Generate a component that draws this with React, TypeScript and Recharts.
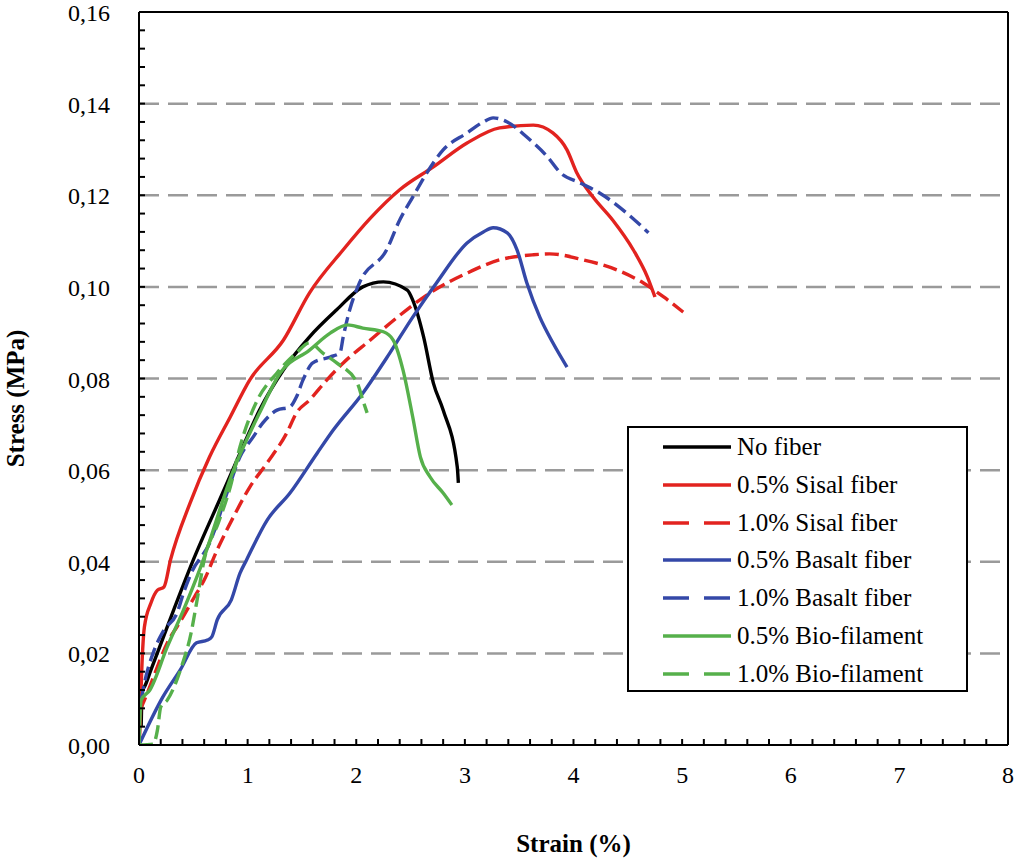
import React from "react";
import { LineChart, Line, XAxis, YAxis, ReferenceLine } from "recharts";

// [strain %, stress MPa] pairs
type Pt = [number, number];

const noFiber: Pt[] = [
  [0.02, 0.004], [0.03, 0.012], [0.05, 0.0127], [0.11, 0.0164], [0.26, 0.0258],
  [0.5, 0.0404], [0.77, 0.055], [0.93, 0.0637], [1.11, 0.0731], [1.33, 0.0819],
  [1.57, 0.0891], [1.82, 0.095], [2.06, 0.1], [2.25, 0.1011], [2.47, 0.0993],
  [2.52, 0.0971], [2.62, 0.0891], [2.71, 0.079], [2.8, 0.0731], [2.93, 0.0607],
  [2.94, 0.0572],
];

const sisal05: Pt[] = [
  [0, 0], [0.01, 0.0044], [0.02, 0.0127], [0.05, 0.0258], [0.11, 0.031],
  [0.17, 0.0338], [0.23, 0.0345], [0.29, 0.0404], [0.47, 0.0528], [0.65, 0.0629],
  [0.84, 0.0716], [1.02, 0.0797], [1.33, 0.0884], [1.57, 0.0987], [1.88, 0.1081],
  [2.13, 0.115], [2.4, 0.1212], [2.71, 0.1262], [3.02, 0.1314], [3.32, 0.1347],
  [3.63, 0.1353], [3.81, 0.1336], [3.94, 0.1299], [4.03, 0.1249], [4.18, 0.1196],
  [4.36, 0.1146], [4.55, 0.1081], [4.68, 0.1022], [4.75, 0.0978],
];

const sisal10: Pt[] = [
  [0.01, 0.0076], [0.05, 0.0098], [0.29, 0.0236], [0.35, 0.0258], [0.51, 0.0323],
  [0.6, 0.036], [0.72, 0.0426], [0.87, 0.0498], [1.02, 0.0563], [1.18, 0.0616],
  [1.36, 0.0681], [1.45, 0.0725], [1.57, 0.0753], [1.73, 0.0797], [1.88, 0.0834],
  [2.13, 0.0884], [2.38, 0.0934], [2.68, 0.0987], [3.02, 0.103], [3.32, 0.1059],
  [3.63, 0.107], [3.78, 0.1072], [4.09, 0.1059], [4.4, 0.1037], [4.64, 0.1009],
  [4.83, 0.0978], [5.01, 0.0945],
];

const basalt05: Pt[] = [
  [0, 0], [0.22, 0.0105], [0.38, 0.0164], [0.53, 0.0223], [0.63, 0.0229],
  [0.67, 0.0236], [0.72, 0.0273], [0.85, 0.0317], [0.93, 0.0375], [0.99, 0.0404],
  [1.18, 0.0491], [1.39, 0.055], [1.64, 0.0637], [1.79, 0.0688], [2.06, 0.0768],
  [2.31, 0.0856], [2.52, 0.0934], [2.74, 0.1009], [3.02, 0.1096], [3.17, 0.112],
  [3.26, 0.1129], [3.39, 0.1118], [3.48, 0.1081], [3.57, 0.1009], [3.69, 0.0934],
  [3.81, 0.0878], [3.94, 0.0825],
];

const basalt10: Pt[] = [
  [0.02, 0.0098], [0.05, 0.0135], [0.14, 0.0207], [0.23, 0.0251], [0.35, 0.0288],
  [0.41, 0.0332], [0.48, 0.0375], [0.65, 0.0441], [0.81, 0.055], [0.93, 0.0629],
  [1.05, 0.0672], [1.14, 0.0703], [1.27, 0.0731], [1.39, 0.0738], [1.45, 0.076],
  [1.51, 0.0797], [1.6, 0.0834], [1.76, 0.0847], [1.85, 0.0856], [1.88, 0.0891],
  [1.94, 0.095], [2.03, 0.1009], [2.28, 0.1081], [2.4, 0.1146], [2.52, 0.1196],
  [2.65, 0.1249], [2.8, 0.1299], [3.02, 0.1336], [3.17, 0.136], [3.26, 0.1369],
  [3.39, 0.136], [3.57, 0.1327], [3.76, 0.1284], [3.88, 0.1249], [4.06, 0.1227],
  [4.24, 0.1205], [4.49, 0.1161], [4.69, 0.1118],
];

const bio05: Pt[] = [
  [0, 0], [0.02, 0.0098], [0.1, 0.012], [0.26, 0.0214], [0.41, 0.0295],
  [0.57, 0.039], [0.87, 0.06], [1.11, 0.0725], [1.3, 0.0812], [1.57, 0.0862],
  [1.76, 0.0899], [1.92, 0.0917], [2.06, 0.091], [2.25, 0.0902], [2.34, 0.0884],
  [2.43, 0.0819], [2.52, 0.0716], [2.59, 0.0629], [2.68, 0.0585], [2.8, 0.055],
  [2.88, 0.0524],
];

const bio10: Pt[] = [
  [0, 0], [0.13, 0.0002], [0.17, 0.0033], [0.2, 0.0083], [0.26, 0.0098],
  [0.39, 0.017], [0.48, 0.0245], [0.53, 0.031], [0.6, 0.0404], [0.73, 0.0485],
  [0.84, 0.0563], [0.93, 0.0651], [1.09, 0.0753], [1.27, 0.0812], [1.45, 0.0856],
  [1.57, 0.0878], [1.69, 0.0856], [1.82, 0.0834], [2.01, 0.079], [2.06, 0.0753],
  [2.1, 0.0725],
];

const xTicks = [
  0, 0.2, 0.4, 0.6, 0.8, 1, 1.2, 1.4, 1.6, 1.8, 2, 2.2, 2.4, 2.6, 2.8, 3, 3.2, 3.4,
  3.6, 3.8, 4, 4.2, 4.4, 4.6, 4.8, 5, 5.2, 5.4, 5.6, 5.8, 6, 6.2, 6.4, 6.6, 6.8, 7,
  7.2, 7.4, 7.6, 7.8, 8,
];
const yTicks = [
  0, 0.004, 0.008, 0.012, 0.016, 0.02, 0.024, 0.028, 0.032, 0.036, 0.04, 0.044,
  0.048, 0.052, 0.056, 0.06, 0.064, 0.068, 0.072, 0.076, 0.08, 0.084, 0.088, 0.092,
  0.096, 0.1, 0.104, 0.108, 0.112, 0.116, 0.12, 0.124, 0.128, 0.132, 0.136, 0.14,
  0.144, 0.148, 0.152, 0.156, 0.16,
];
const gridY = [0.02, 0.04, 0.06, 0.08, 0.1, 0.12, 0.14];

const RED = "#e2231f";
const BLUE = "#3448a8";
const GREEN = "#56b04b";
const FONT = "Liberation Serif, Tinos, DejaVu Serif, serif";

const series = [
  { name: "No fiber", data: noFiber, color: "#000000", dashed: false },
  { name: "0.5% Sisal fiber", data: sisal05, color: RED, dashed: false },
  { name: "1.0% Sisal fiber", data: sisal10, color: RED, dashed: true },
  { name: "0.5% Basalt fiber", data: basalt05, color: BLUE, dashed: false },
  { name: "1.0% Basalt fiber", data: basalt10, color: BLUE, dashed: true },
  { name: "0.5% Bio-filament", data: bio05, color: GREEN, dashed: false },
  { name: "1.0% Bio-filament", data: bio10, color: GREEN, dashed: true },
];

const XTick = (props: any) => {
  const { x, y, payload } = props;
  const v = payload.value;
  const major = Math.abs(v - Math.round(v)) < 1e-6;
  return (
    <g>
      <line x1={x} x2={x} y1={y} y2={y - 6} stroke="#000" strokeWidth={2} />
      {major && (
        <text x={x} y={y + 38} textAnchor="middle" style={{ fontFamily: FONT, fontSize: 24 }} fill="#000">
          {v}
        </text>
      )}
    </g>
  );
};

const YTick = (props: any) => {
  const { x, y, payload } = props;
  const v = payload.value;
  const major = Math.round(v * 1000) % 20 === 0;
  return (
    <g>
      <line x1={x} x2={x + 6} y1={y} y2={y} stroke="#000" strokeWidth={2} />
      {major && (
        <text x={x - 29} y={y + 9} textAnchor="end" style={{ fontFamily: FONT, fontSize: 24 }} fill="#000">
          {v.toFixed(2).replace(".", ",")}
        </text>
      )}
    </g>
  );
};

const ChartLegend = () => (
  <div
    style={{
      position: "absolute",
      left: 627,
      top: 426,
      width: 337,
      height: 262,
      border: "2px solid #000",
      background: "#fff",
      fontFamily: FONT,
      fontSize: 25,
    }}
  >
    {series.map((s, i) => (
      <div
        key={s.name}
        style={{ position: "absolute", left: 34, top: 1 + i * 37.8, height: 36, display: "flex", alignItems: "center" }}
      >
        <svg width={68} height={6} style={{ marginRight: 6 }}>
          <line
            x1={0}
            x2={68}
            y1={3}
            y2={3}
            stroke={s.color}
            strokeWidth={3.5}
            strokeDasharray={s.dashed ? "26 15" : undefined}
          />
        </svg>
        <span>{s.name}</span>
      </div>
    ))}
  </div>
);

export default function App() {
  return (
    <div style={{ position: "absolute", left: 0, top: 0, width: 1014, height: 858, background: "#fff", fontFamily: FONT }}>
      <LineChart width={1014} height={858} margin={{ top: 12, right: 6, bottom: 0, left: 0 }} style={{ fontFamily: FONT }}>
        <XAxis
          type="number"
          dataKey="x"
          domain={[0, 8]}
          ticks={xTicks}
          interval={0}
          tickSize={0}
          tickMargin={0}
          tickLine={false}
          tick={<XTick />}
          axisLine={{ stroke: "#000", strokeWidth: 2 }}
          height={113}
          allowDataOverflow
          label={{
            value: "Strain (%)",
            position: "insideBottom",
            offset: 6,
            style: { fontFamily: FONT, fontSize: 25, fontWeight: "bold", fill: "#000" },
          }}
        />
        <YAxis
          type="number"
          dataKey="y"
          domain={[0, 0.16]}
          ticks={yTicks}
          interval={0}
          tickSize={0}
          tickMargin={0}
          tickLine={false}
          tick={<YTick />}
          axisLine={{ stroke: "#000", strokeWidth: 2 }}
          width={139}
          allowDataOverflow
          label={{
            value: "Stress (MPa)",
            angle: -90,
            position: "insideLeft",
            offset: 15,
            dy: 20,
            style: { fontFamily: FONT, fontSize: 25, fontWeight: "bold", fill: "#000", textAnchor: "middle" },
          }}
        />
        {gridY.map((v) => (
          <ReferenceLine key={v} y={v} stroke="#9a9a9a" strokeWidth={2.5} strokeDasharray="20 9" />
        ))}
        <ReferenceLine y={0.16} stroke="#000" strokeWidth={2} />
        <ReferenceLine x={8} stroke="#000" strokeWidth={2} />
        {series.map((s) => (
          <Line
            key={s.name}
            data={s.data.map(([x, y]) => ({ x, y }))}
            dataKey="y"
            name={s.name}
            type="monotone"
            stroke={s.color}
            strokeWidth={3.4}
            strokeDasharray={s.dashed ? "14 6" : undefined}
            dot={false}
            activeDot={false}
            isAnimationActive={false}
          />
        ))}
      </LineChart>
      <ChartLegend />
    </div>
  );
}
